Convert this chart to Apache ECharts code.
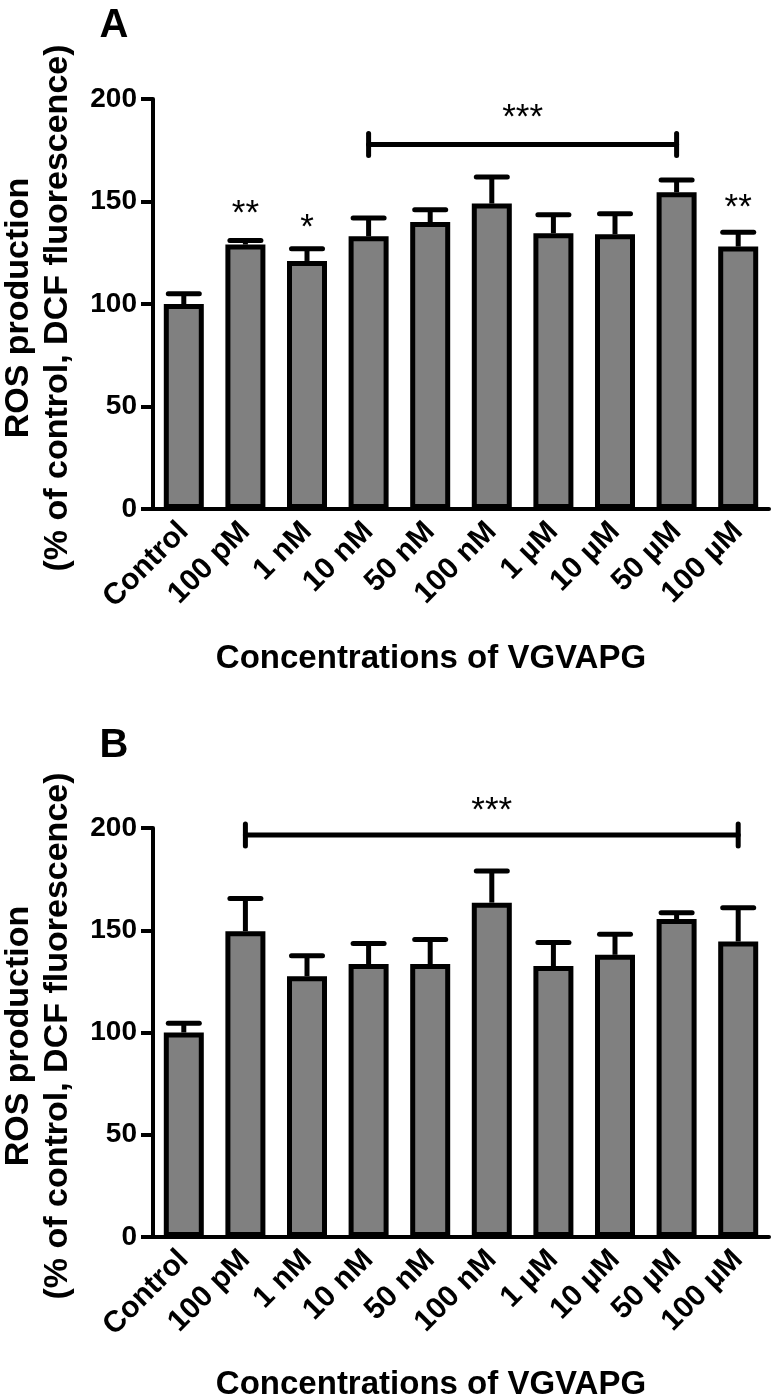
<!DOCTYPE html>
<html>
<head>
<meta charset="utf-8">
<script src="https://cdn.jsdelivr.net/npm/echarts@6/dist/echarts.min.js"></script>
<style>
html,body{margin:0;padding:0;background:#fff;}
#chart{width:774px;height:1400px;}
</style>
</head>
<body>
<div id="chart"></div>
<script>
const categories = ['Control','100 pM','1 nM','10 nM','50 nM','100 nM','1 µM','10 µM','50 µM','100 µM'];
const meansA = [100, 129, 121, 133, 140, 149, 134.5, 134, 154.5, 128];
const errA   = [5, 2, 6, 9, 6, 13, 9, 10, 6, 7];
const meansB = [100, 149.5, 127.5, 133.5, 133.5, 163.5, 132.5, 138, 155.5, 144.5];
const errB   = [4.5, 16, 10, 10, 12, 15.5, 11.5, 10, 3, 16.5];
const yTickValues = [0, 50, 100, 150, 200];
const starsA = [
  {cat: 1, value: 147.3, text: '**'},
  {cat: 2, value: 140.5, text: '*'},
  {cat: 9, value: 150.2, text: '**'}
];
const bracketA = {from: 3, to: 8, value: 177.8, text: '***', textValue: 194.1};
const bracketB = {from: 1, to: 9, value: 196.6, text: '***', textValue: 211.7};
const xTitle = 'Concentrations of VGVAPG';
const yTitle = 'ROS production\n(% of control, DCF fluorescence)';
const panelLabels = ['A', 'B'];

const FONT = '"Liberation Sans", Arial, sans-serif';
const chart = echarts.init(document.getElementById('chart'), null, {renderer: 'canvas'});

function xAxisCfg(gi) {
  return {
    type: 'category', gridIndex: gi, data: categories,
    axisLine: {lineStyle: {color: '#000', width: 4}},
    axisTick: {alignWithLabel: true, length: 12, lineStyle: {color: '#000', width: 4}},
    axisLabel: {interval: 0, rotate: 45, margin: 18, color: '#000', fontFamily: FONT, fontWeight: 'bold', fontSize: 30},
    splitLine: {show: false}
  };
}
function yAxisCfg(gi) {
  return {
    type: 'value', gridIndex: gi, min: yTickValues[0], max: yTickValues[yTickValues.length - 1],
    interval: yTickValues[1] - yTickValues[0],
    axisLine: {show: true, lineStyle: {color: '#000', width: 4}},
    axisTick: {show: true, length: 12, lineStyle: {color: '#000', width: 4}},
    axisLabel: {margin: 16, color: '#000', fontFamily: FONT, fontWeight: 'bold', fontSize: 28},
    splitLine: {show: false}
  };
}
function barSeries(gi, means) {
  return {
    type: 'bar', xAxisIndex: gi, yAxisIndex: gi, data: means, barWidth: 40,
    itemStyle: {color: '#808080', borderColor: '#000', borderWidth: 5},
    z: 3, silent: true
  };
}
function errSeries(gi, means, errs) {
  return {
    type: 'custom', xAxisIndex: gi, yAxisIndex: gi, z: 2, silent: true,
    data: means.map((m, i) => [i, m, errs[i]]),
    renderItem: function (params, api) {
      const i = api.value(0), m = api.value(1), e = api.value(2);
      const p0 = api.coord([i, m]);
      const p1 = api.coord([i, m + e]);
      const st = {stroke: '#000', lineWidth: 5, lineCap: 'round'};
      return {type: 'group', children: [
        {type: 'line', shape: {x1: p0[0], y1: p0[1], x2: p1[0], y2: p1[1]}, style: {stroke: '#000', lineWidth: 5}},
        {type: 'line', shape: {x1: p1[0] - 15.5, y1: p1[1], x2: p1[0] + 15.5, y2: p1[1]}, style: st}
      ]};
    }
  };
}
function starText(x, y, text) {
  return {type: 'text', x: x, y: y + 7.5,
    style: {text: text, font: 'normal 35px ' + FONT, fill: '#000', align: 'center', verticalAlign: 'middle', textAlign: 'center', textVerticalAlign: 'middle'}};
}
function annotSeries(gi, stars, bracket) {
  const data = stars.map(s => [s.cat, s.value, 0]);
  data.push([bracket.from, bracket.value, 1]);
  return {
    type: 'custom', xAxisIndex: gi, yAxisIndex: gi, z: 5, silent: true, clip: false,
    data: data,
    renderItem: function (params, api) {
      const idx = params.dataIndex;
      if (idx < stars.length) {
        const s = stars[idx];
        const p = api.coord([s.cat, s.value]);
        return starText(p[0], p[1], s.text);
      }
      const a = api.coord([bracket.from, bracket.value]);
      const b = api.coord([bracket.to, bracket.value]);
      const t = api.coord([bracket.from, bracket.textValue]);
      const st = {stroke: '#000', lineWidth: 5, lineCap: 'round'};
      return {type: 'group', children: [
        {type: 'line', shape: {x1: a[0], y1: a[1], x2: b[0], y2: b[1]}, style: st},
        {type: 'line', shape: {x1: a[0], y1: a[1] - 11, x2: a[0], y2: a[1] + 11}, style: st},
        {type: 'line', shape: {x1: b[0], y1: b[1] - 11, x2: b[0], y2: b[1] + 11}, style: st},
        starText((a[0] + b[0]) / 2, t[1], bracket.text)
      ]};
    }
  };
}

const grids = [
  {left: 153, top: 99, width: 616, height: 410},
  {left: 153, top: 828, width: 616, height: 409}
];

function titleGraphics() {
  const g = [];
  const yCenters = [308, 1036];
  const xTitleY = [659, 1385];
  const letterY = [26, 746];
  for (let k = 0; k < 2; k++) {
    g.push({type: 'text', x: 38, y: yCenters[k], rotation: Math.PI / 2,
      style: {text: yTitle, font: 'bold 34px ' + FONT, fill: '#000', align: 'center', verticalAlign: 'middle', textAlign: 'center', textVerticalAlign: 'middle', lineHeight: 39}});
    g.push({type: 'text', x: 431, y: xTitleY[k],
      style: {text: xTitle, font: 'bold 33px ' + FONT, fill: '#000', align: 'center', verticalAlign: 'middle', textAlign: 'center', textVerticalAlign: 'middle'}});
    g.push({type: 'text', x: 114, y: letterY[k],
      style: {text: panelLabels[k], font: 'bold 40px ' + FONT, fill: '#000', align: 'center', verticalAlign: 'middle', textAlign: 'center', textVerticalAlign: 'middle'}});
  }
  return g;
}

chart.setOption({
  animation: false,
  backgroundColor: '#fff',
  grid: grids,
  xAxis: [xAxisCfg(0), xAxisCfg(1)],
  yAxis: [yAxisCfg(0), yAxisCfg(1)],
  series: [
    errSeries(0, meansA, errA), barSeries(0, meansA), annotSeries(0, starsA, bracketA),
    errSeries(1, meansB, errB), barSeries(1, meansB), annotSeries(1, [], bracketB)
  ],
  graphic: titleGraphics()
});
</script>
</body>
</html>
